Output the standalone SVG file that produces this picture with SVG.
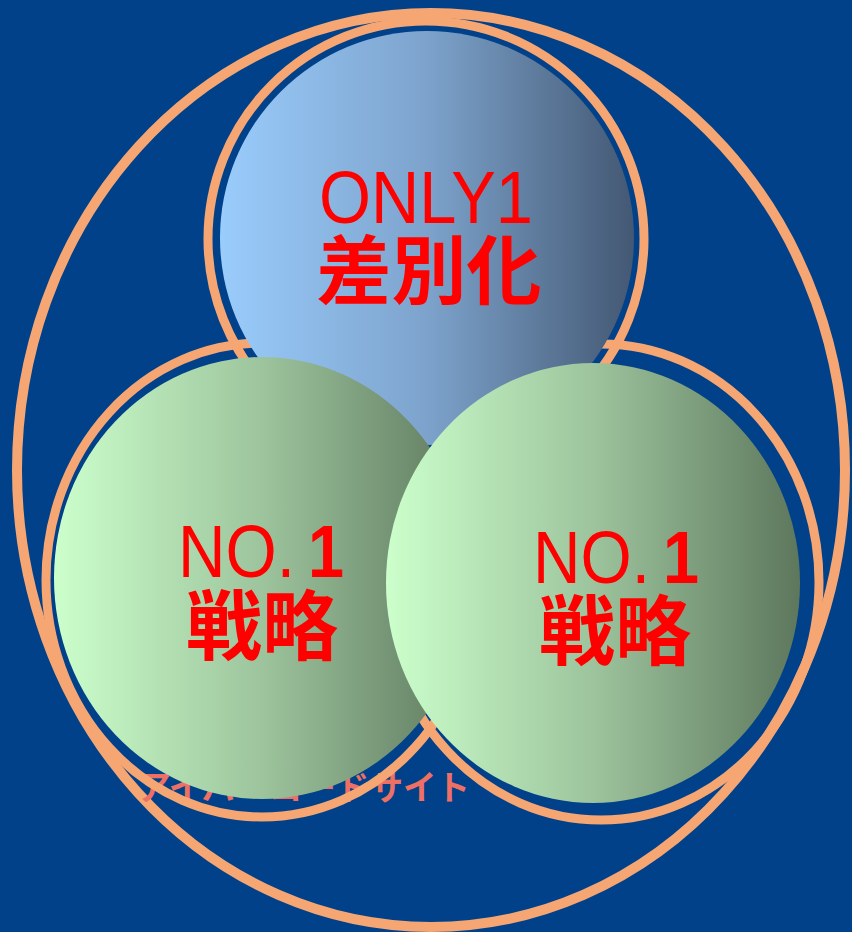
<svg xmlns="http://www.w3.org/2000/svg" width="852" height="932" viewBox="0 0 852 932">
  <defs>
    <linearGradient id="gBlue" x1="0" y1="0" x2="1" y2="0">
      <stop offset="0" stop-color="#9ACCFC"/>
      <stop offset="0.5" stop-color="#7DA3CC"/>
      <stop offset="1" stop-color="#435873"/>
    </linearGradient>
    <linearGradient id="gGreen" x1="0" y1="0" x2="1" y2="0">
      <stop offset="0" stop-color="#CCFFCC"/>
      <stop offset="0.5" stop-color="#9DC49D"/>
      <stop offset="1" stop-color="#5D775D"/>
    </linearGradient>
    <style>
      .ring { fill: none; stroke: #F5A673; stroke-width: 9; }
      .big { fill: none; stroke: #F5A673; stroke-width: 10; }
      .lat { font-family: "Liberation Sans", Arial, sans-serif; fill: #FF0000; }
      .jp { font-family: "Noto Sans CJK JP", "Noto Sans", sans-serif; fill: #FF0000; font-weight: bold; }
      .sub { font-family: "Noto Sans CJK JP", "Noto Sans", sans-serif; fill: #EE7064; font-size: 34px; font-weight: bold; }
    </style>
  </defs>
  <rect x="0" y="0" width="852" height="932" fill="#00418A"/>

  <g id="outer">
    <ellipse class="big" cx="431" cy="470" rx="414" ry="457"/>
  </g>

  <g id="caption">
    <text class="sub" x="137" y="800" textLength="333" lengthAdjust="spacingAndGlyphs">アイバーコードサイト</text>
  </g>

  <g id="rings">
    <ellipse class="ring" cx="262" cy="580" rx="216" ry="237"/>
    <ellipse class="ring" cx="601" cy="582" rx="218" ry="238"/>
    <circle class="ring" cx="426" cy="239" r="218"/>
  </g>

  <g id="node-top">
    <circle cx="427" cy="238" r="207" fill="url(#gBlue)"/>
    <text class="lat" x="319" y="223" font-size="74" textLength="214" lengthAdjust="spacingAndGlyphs">ONLY1</text>
    <text class="jp" x="429" y="298" font-size="75" text-anchor="middle">差別化</text>
  </g>

  <g id="node-left">
    <ellipse cx="262" cy="578" rx="208" ry="221" fill="url(#gGreen)"/>
    <text class="lat" x="178" y="577" font-size="75" textLength="117" lengthAdjust="spacingAndGlyphs">NO.</text>
    <text class="lat" x="308" y="577" font-size="75" font-weight="bold" textLength="36" lengthAdjust="spacingAndGlyphs">1</text>
    <text class="jp" x="186" y="654" font-size="76">戦略</text>
  </g>

  <g id="node-right">
    <ellipse cx="593" cy="583" rx="207" ry="220" fill="url(#gGreen)"/>
    <text class="lat" x="533" y="583" font-size="75" textLength="117" lengthAdjust="spacingAndGlyphs">NO.</text>
    <text class="lat" x="663" y="583" font-size="75" font-weight="bold" textLength="36" lengthAdjust="spacingAndGlyphs">1</text>
    <text class="jp" x="539" y="659" font-size="76">戦略</text>
  </g>
</svg>
